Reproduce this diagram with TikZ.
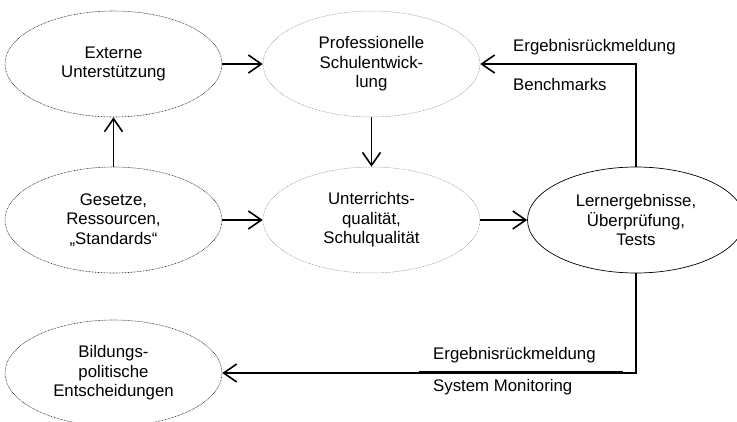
\documentclass[tikz,border=0pt]{standalone}
\usepackage{fontspec}
\setmainfont{Liberation Sans}
\usetikzlibrary{shapes.geometric,arrows.meta}

\begin{document}
\begin{tikzpicture}[
    x=1pt, y=-1pt,
    oval/.style={%
      ellipse,
      minimum width=217pt,
      minimum height=106pt,
      inner sep=0pt,
      align=center,
      font=\fontsize{16.8}{19.5}\selectfont,
    },
    darkdots/.style={oval, draw=black!85, line width=0.6pt, dash pattern=on 0.7pt off 0.8pt},
    lightdots/.style={oval, draw=black!45, line width=0.5pt, dash pattern=on 0.7pt off 0.8pt},
    plain/.style={oval, draw, line width=0.7pt},
    arr/.style={-{Straight Barb[length=13pt,width=18pt,line width=1.6pt]}, line width=1.7pt},
    lbl/.style={anchor=base west, inner sep=0pt, font=\fontsize{16.8}{19.5}\selectfont},
  ]
    \useasboundingbox (0,0) rectangle (737,421);

    \node [darkdots] (A) at (113.5,64) {Externe\\Unterstützung};
    \node [lightdots] (B) at (371.5,64) {Professionelle\\Schulentwick-\\lung};
    \node [darkdots] (C) at (113.5,220) {Gesetze,\\Ressourcen,\\„Standards“};
    \node [lightdots] (D) at (371.5,220) {Unterrichts-\\qualität,\\Schulqualität};
    \node [plain] (E) at (636,220) {Lernergebnisse,\\Überprüfung,\\Tests};
    \node [darkdots] (F) at (113.5,373) {Bildungs-\\politische\\Entscheidungen};

    \draw [arr] (A) -- (B);
    \draw [arr] (C) -- (A);
    \draw [arr] (C) -- (D);
    \draw [arr] (B) -- (D);
    \draw [arr] (D) -- (E);
    \draw [arr, line width=1.3pt] (E.north) |- (B.east);
    \draw [arr, line width=1.3pt] (E.south) |- (F.east);

    \coordinate (T1) at (419,372.5);
    \coordinate (T2) at (623,372.5);
    \draw [line width=3pt] (T1) -- (T2);

    \node [lbl] (G) at (513,51.7) {Ergebnisrückmeldung};
    \node [lbl] (H) at (513,90.7) {Benchmarks};
    \node [lbl] (I) at (433,359) {Ergebnisrückmeldung};
    \node [lbl] (J) at (433,391.7) {System Monitoring};

\end{tikzpicture}
\end{document}
